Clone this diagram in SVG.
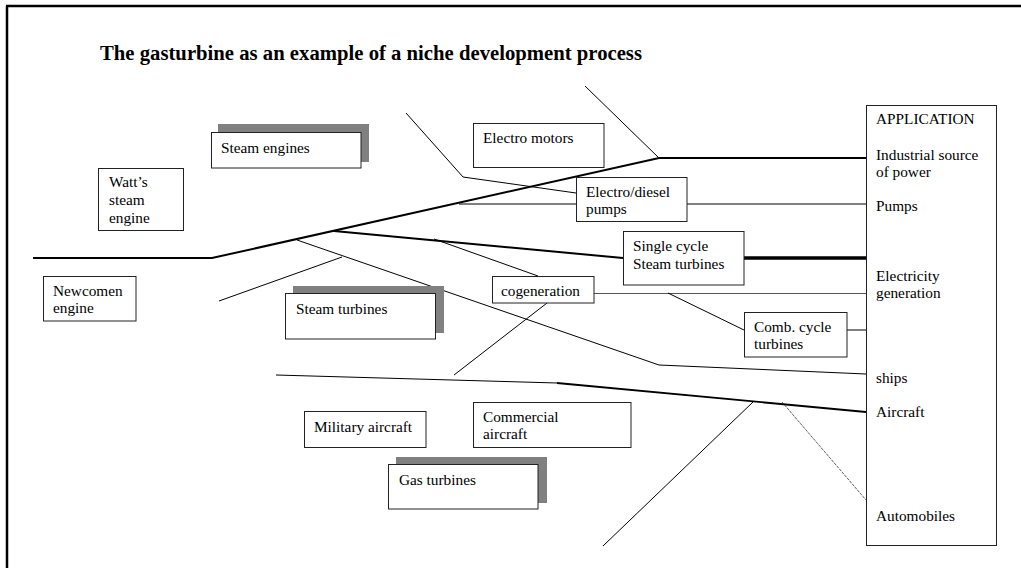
<svg xmlns="http://www.w3.org/2000/svg" width="1021" height="568" viewBox="0 0 1021 568">
<style>
.box{fill:#fff;stroke:#222;stroke-width:1}
.sh{fill:#808080}
.t{font-family:"Liberation Serif","Times New Roman",serif;font-size:15.3px;fill:#000}
.title{font-family:"Liberation Serif","Times New Roman",serif;font-size:20.7px;font-weight:bold;fill:#000}
.thin{stroke:#000;stroke-width:1;fill:none}
.thick{stroke:#000;stroke-width:2;fill:none}
</style>
<rect x="0" y="0" width="1021" height="568" fill="#fff"/>
<g id="frame">
<path d="M6 6 H1021 M7 6 V568" stroke="#000" stroke-width="2.5" fill="none"/>
</g>
<text class="title" x="100" y="60" textLength="542" lengthAdjust="spacing">The gasturbine as an example of a niche development process</text>
<g id="connectors">
<polyline class="thick" points="33,258 212,258 659,158 866,158"/>
<line class="thin" x1="585" y1="86" x2="659" y2="158"/>
<polyline class="thin" points="406,113 463,177 576,193"/>
<line class="thin" x1="459" y1="204" x2="576" y2="204"/>
<line class="thin" x1="687" y1="204" x2="866" y2="204"/>
<line class="thick" x1="334" y1="231" x2="623" y2="258"/>
<line stroke="#000" stroke-width="3.5" x1="744" y1="258" x2="866" y2="258"/>
<polyline class="thin" points="297,240 659,365 866,374"/>
<line class="thin" x1="434" y1="239" x2="538" y2="276"/>
<line class="thin" x1="219" y1="301" x2="342" y2="257"/>
<line class="thin" x1="454" y1="375" x2="547" y2="303"/>
<line stroke="#555" stroke-width="1.2" x1="594" y1="293.5" x2="866" y2="293.5"/>
<line class="thin" x1="668" y1="293" x2="744" y2="330"/>
<line class="thin" x1="847" y1="330" x2="866" y2="330"/>
<line class="thin" x1="276" y1="375" x2="557" y2="383"/>
<line stroke="#000" stroke-width="1.8" x1="557" y1="383" x2="866" y2="412"/>
<line class="thin" x1="603" y1="546" x2="753" y2="402"/>
<line stroke="#333" stroke-width="0.8" stroke-dasharray="3 1" x1="782" y1="402" x2="866" y2="500"/>
</g>
<g id="watt">
<rect class="box" x="98.5" y="168.5" width="85" height="62"/>
<text class="t" x="109" y="187">Watt’s</text>
<text class="t" x="109" y="205">steam</text>
<text class="t" x="109" y="223">engine</text>
</g>
<g id="steam-engines">
<rect class="sh" x="218" y="124" width="151" height="38"/>
<rect class="box" x="211.5" y="132.5" width="149.5" height="35.5"/>
<text class="t" x="221" y="153">Steam engines</text>
</g>
<g id="newcomen">
<rect class="box" x="43.5" y="276.5" width="92.5" height="44.5"/>
<text class="t" x="53" y="296">Newcomen</text>
<text class="t" x="53" y="313">engine</text>
</g>
<g id="steam-turbines">
<rect class="sh" x="293" y="286" width="151" height="47"/>
<rect class="box" x="285.5" y="293.5" width="150" height="45.5"/>
<text class="t" x="296" y="314">Steam turbines</text>
</g>
<g id="electro-motors">
<rect class="box" x="473.5" y="123.5" width="130.5" height="44"/>
<text class="t" x="483" y="143">Electro motors</text>
</g>
<g id="electro-diesel">
<rect class="box" x="576.5" y="177.5" width="110.5" height="44"/>
<text class="t" x="586" y="197">Electro/diesel</text>
<text class="t" x="586" y="214">pumps</text>
</g>
<g id="single-cycle">
<rect class="box" x="623.5" y="231.5" width="120.5" height="53.5"/>
<text class="t" x="633" y="251">Single cycle</text>
<text class="t" x="633" y="269">Steam turbines</text>
</g>
<g id="cogeneration">
<rect class="box" x="492.5" y="276.5" width="101.5" height="26.5"/>
<text class="t" x="501" y="296">cogeneration</text>
</g>
<g id="comb-cycle">
<rect class="box" x="744.5" y="312.5" width="102.5" height="44.5"/>
<text class="t" x="754" y="332">Comb. cycle</text>
<text class="t" x="754" y="349">turbines</text>
</g>
<g id="military">
<rect class="box" x="304.5" y="411.5" width="121.5" height="36"/>
<text class="t" x="314" y="432">Military aircraft</text>
</g>
<g id="commercial">
<rect class="box" x="473.5" y="402.5" width="157.5" height="45"/>
<text class="t" x="483" y="422">Commercial</text>
<text class="t" x="483" y="439">aircraft</text>
</g>
<g id="gas-turbines">
<rect class="sh" x="396" y="457" width="151" height="46"/>
<rect class="box" x="388.5" y="464.5" width="149.5" height="44.5"/>
<text class="t" x="399" y="485">Gas turbines</text>
</g>
<g id="application">
<rect class="box" x="866.5" y="105.5" width="130" height="440"/>
<text class="t" x="876" y="124">APPLICATION</text>
<text class="t" x="876" y="160">Industrial source</text>
<text class="t" x="876" y="177">of power</text>
<text class="t" x="876" y="211">Pumps</text>
<text class="t" x="876" y="281">Electricity</text>
<text class="t" x="876" y="298">generation</text>
<text class="t" x="876" y="383">ships</text>
<text class="t" x="876" y="417">Aircraft</text>
<text class="t" x="876" y="521">Automobiles</text>
</g>
</svg>
